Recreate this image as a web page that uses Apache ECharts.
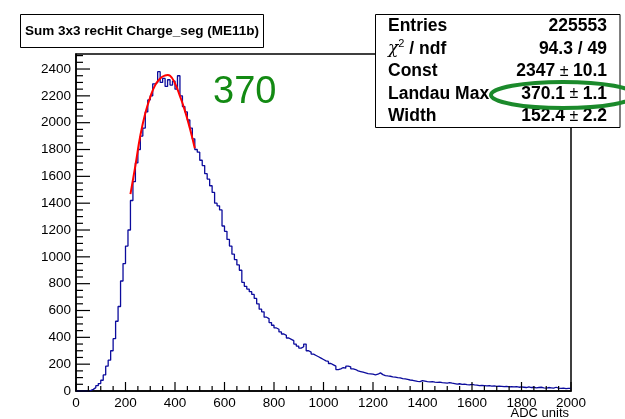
<!DOCTYPE html>
<html>
<head>
<meta charset="utf-8">
<script src="https://cdn.jsdelivr.net/npm/echarts@6/dist/echarts.min.js"></script>
<style>
html,body{margin:0;padding:0;background:#fff;}
#c{width:625px;height:419px;}
</style>
</head>
<body>
<div id="c"></div>
<script>
// Histogram: bins of 10 ADC units from 0 to 2000 (low edges = index * binWidth)
const binWidth = 10;
const counts = [
  0,0,0,0,0,5,12,25,40,55,
  80,120,185,230,300,390,520,630,820,950,
  1080,1200,1420,1560,1700,1800,1900,1960,2080,2170,
  2200,2290,2300,2380,2300,2330,2270,2320,2280,2310,
  2250,2350,2200,2120,2080,2020,1960,1880,1800,1780,
  1720,1680,1620,1580,1530,1480,1400,1380,1350,1230,
  1190,1130,1080,1020,980,940,900,810,780,760,
  740,720,690,650,610,590,550,540,510,490,
  470,460,440,425,415,395,385,375,350,335,
  320,330,350,300,290,275,265,255,245,235,
  225,220,205,195,185,160,165,175,170,185,
  180,165,160,150,145,140,135,130,128,125,
  120,125,135,122,115,112,110,106,104,100,
  98,92,90,86,82,80,76,72,70,78,
  74,70,68,70,66,64,66,62,60,58,
  62,58,55,52,54,50,52,48,46,50,
  46,44,40,42,40,38,40,36,38,34,
  36,34,32,34,30,32,30,33,28,30,
  28,26,30,26,28,24,26,28,24,22,
  26,24,22,28,22,20,22,18,20,19
];
// Landau fit curve
const fitX = [220,240,260,280,300,320,340,360,370,380,400,420,440,460,480];
const fitY = [1468,1680,1905,2070,2190,2280,2330,2352,2355,2350,2292,2198,2090,1958,1810];

// Axis ticks
const xMajorTicks = [0,200,400,600,800,1000,1200,1400,1600,1800,2000];
const yMajorTicks = [0,200,400,600,800,1000,1200,1400,1600,1800,2000,2200,2400];
const minorPerMajor = 4;

const titleText = 'Sum 3x3 recHit Charge_seg (ME11b)';
const statsLabels = ['{b|Entries}', '{chi|\u03c7}{sup|2}{b| / ndf}', '{b|Const}', '{b|Landau Max}', '{b|Width}'];
const statsValues = ['{b|225553}', '{b|94.3 / 49}', '{b|2347}{pm| \u00b1 }{b|10.1}', '{b|370.1}{pm| \u00b1 }{b|1.1}', '{b|152.4}{pm| \u00b1 }{b|2.2}'];
const xTitle = 'ADC units';
const annotation = '370';

const xMin = 0, xMax = 2000, yMin = 0, yMax = 2512;

const histData = counts.map((v, i) => [i * binWidth, v]);
histData.push([counts.length * binWidth, counts[counts.length - 1]]);
const fitData = fitX.map((x, i) => [x, fitY[i]]);

function minorTicks(majors, maxVal) {
  const step = (majors[1] - majors[0]) / minorPerMajor;
  const out = [];
  for (let v = majors[0]; v <= maxVal + 1e-9; v += step) {
    if (majors.indexOf(v) < 0) out.push(v);
  }
  return out;
}
const xMajorPts = xMajorTicks.map(v => [v, yMin]);
const xMinorPts = minorTicks(xMajorTicks, xMax).map(v => [v, yMin]);
const yMajorPts = yMajorTicks.map(v => [xMin, v]);
const yMinorPts = minorTicks(yMajorTicks, yMax).map(v => [xMin, v]);

const FONT = '"Liberation Sans", Arial, Helvetica, sans-serif';
const chart = echarts.init(document.getElementById('c'), null, {renderer: 'canvas'});

const richStyles = {
  b: {fontFamily: FONT, fontWeight: 'bold', fontSize: 17.5, color: '#000', lineHeight: 22},
  pm: {fontFamily: FONT, fontWeight: 'normal', fontSize: 16, color: '#000', lineHeight: 22},
  chi: {fontFamily: '"DejaVu Serif", "Liberation Serif", serif', fontStyle: 'italic', fontWeight: 'normal', fontSize: 17, color: '#000', lineHeight: 22},
  sup: {fontFamily: FONT, fontWeight: 'normal', fontSize: 11, color: '#000', verticalAlign: 'top', lineHeight: 14}
};

const titles = [
  {text: titleText, left: 20, top: 14, padding: [9, 5, 9, 5], borderColor: '#000', borderWidth: 1, backgroundColor: '#fff', z: 8,
    textStyle: {fontFamily: FONT, fontWeight: 'bold', fontSize: 13.5, lineHeight: 16, color: '#000'}},
  {text: annotation, left: 213, top: 73, padding: 0, z: 8,
    textStyle: {fontFamily: FONT, fontWeight: 'normal', fontSize: 38, lineHeight: 40, color: '#138a13'}},
  {text: xTitle, right: 56, top: 407, padding: 0, z: 8,
    textStyle: {fontFamily: FONT, fontWeight: 'normal', fontSize: 13, lineHeight: 13, color: '#000'}}
];
statsLabels.forEach((t, i) => {
  titles.push({text: t, left: 388, top: 15.5 + 22.5 * i, padding: 0, z: 8,
    textStyle: {fontFamily: FONT, fontWeight: 'bold', fontSize: 17.5, lineHeight: 22, color: '#000', rich: richStyles}});
});
statsValues.forEach((t, i) => {
  titles.push({text: t, right: 18, top: 15.5 + 22.5 * i, padding: 0, z: 8,
    textStyle: {fontFamily: FONT, fontWeight: 'bold', fontSize: 17.5, lineHeight: 22, color: '#000', rich: richStyles}});
});

function tickSeries(data, size, offset) {
  return {
    type: 'scatter', data: data, symbol: 'rect', symbolSize: size, symbolOffset: offset,
    itemStyle: {color: '#000', opacity: 1}, silent: true, clip: false, z: 6,
    emphasis: {disabled: true}
  };
}

const plain = v => String(Math.round(v));
chart.setOption({
  animation: false,
  backgroundColor: '#fff',
  title: titles,
  grid: {left: 76, right: 54, top: 54, bottom: 28, show: true, borderColor: '#000', borderWidth: 1.5},
  xAxis: {
    type: 'value', min: xMin, max: xMax, interval: 200,
    axisLine: {show: true, lineStyle: {color: '#000', width: 1.5}},
    axisTick: {show: false},
    minorTick: {show: false},
    axisLabel: {color: '#000', fontSize: 13.5, fontFamily: FONT, margin: 5, formatter: plain},
    splitLine: {show: false}
  },
  yAxis: {
    type: 'value', min: yMin, max: yMax, interval: 200,
    axisLine: {show: true, lineStyle: {color: '#000', width: 1.5}},
    axisTick: {show: false},
    minorTick: {show: false},
    axisLabel: {color: '#000', fontSize: 13.5, fontFamily: FONT, margin: 5, showMaxLabel: false, formatter: plain},
    splitLine: {show: false}
  },
  series: [
    tickSeries(xMajorPts, [1.2, 9], [0, -4.5]),
    tickSeries(xMinorPts, [1.2, 5], [0, -2.5]),
    tickSeries(yMajorPts, [14, 1.2], [7, 0]),
    tickSeries(yMinorPts, [7, 1.2], [3.5, 0]),
    {
      type: 'line', step: 'end', data: histData, showSymbol: false,
      lineStyle: {color: '#0b0b9c', width: 1.3}, z: 3
    },
    {
      type: 'line', data: fitData, smooth: true, showSymbol: false,
      lineStyle: {color: '#ff0000', width: 2}, z: 4
    },
    {
      // statistics box frame
      type: 'custom', data: [[0]], z: 7, clip: false,
      renderItem: function () {
        return {type: 'rect', shape: {x: 375.5, y: 14.5, width: 244.5, height: 113}, style: {fill: '#fff', stroke: '#000', lineWidth: 1}};
      }
    },
    {
      // green highlight ellipse around the Landau Max value
      type: 'custom', data: [[0]], z: 12, clip: false,
      renderItem: function () {
        return {type: 'ellipse', shape: {cx: 563, cy: 95, rx: 72, ry: 13}, style: {fill: 'none', stroke: '#1b8a2b', lineWidth: 4}};
      }
    }
  ]
});
</script>
</body>
</html>
